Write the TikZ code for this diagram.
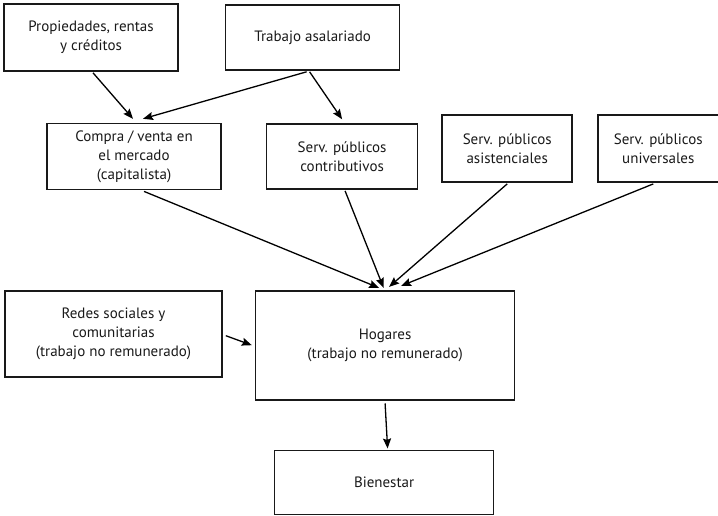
\documentclass[tikz,border=0pt]{standalone}
\usepackage{fontspec}
\setmainfont{PT Sans}
\usetikzlibrary{arrows.meta,positioning}

\begin{document}
\begin{tikzpicture}[x=1pt, y=1pt, >={Stealth[length=10pt,width=8pt,inset=1.5pt]}, line width=1.3pt, font=\fontsize{15}{19}\selectfont]

    \tikzstyle{caja} = [rectangle, draw=black!90, line width=1.6pt, align=center, inner sep=0pt, text=black!90]

    \useasboundingbox (0,0) rectangle (718,-516);

    \node (prop)    [caja, minimum width=174pt, minimum height=67pt] at (91,-37.5)          {Propiedades, rentas\\y créditos};
    \node (trab)    [caja, minimum width=174pt, minimum height=65pt, right=46pt of prop]    {Trabajo asalariado};

    \node (compra)  [caja, minimum width=174pt, minimum height=66pt, below=51pt of prop, xshift=43pt] {Compra / venta en\\el mercado\\(capitalista)};
    \node (contrib) [caja, minimum width=151pt, minimum height=65pt, right=44pt of compra]  {Serv. públicos\\contributivos};
    \node (asist)   [caja, minimum width=130pt, minimum height=67pt, right=23pt of contrib, yshift=8pt] {Serv. públicos\\asistenciales};
    \node (univ)    [caja, minimum width=121pt, minimum height=67pt, right=24pt of asist]   {Serv. públicos\\universales};

    \node (hog)     [caja, minimum width=259pt, minimum height=109pt, below=100pt of contrib, xshift=43pt] {Hogares\\(trabajo no remunerado)};
    \node (redes)   [caja, minimum width=217pt, minimum height=86pt, left=32pt of hog, yshift=11.5pt] {Redes sociales y\\comunitarias\\(trabajo no remunerado)};

    \node (bien)    [caja, minimum width=219pt, minimum height=64pt, below=49pt of hog, xshift=-1pt] {Bienestar};

    \path[->]  ([xshift=2pt,yshift=-1pt]prop.south)     edge  ([xshift=-1pt,yshift=4pt]compra.north);
    \path[->]  ([xshift=-6pt,yshift=-1pt]trab.south)    edge  ([xshift=9pt,yshift=4pt]compra.north);
    \path[->]  ([xshift=-3pt,yshift=-1pt]trab.south)    edge  ([yshift=4pt]contrib.north);

    \path[->]  ([xshift=10pt,yshift=-1pt]compra.south)  edge  ([xshift=-6pt,yshift=2pt]hog.north);
    \path[->]  ([xshift=3pt,yshift=-1pt]contrib.south)  edge  ([xshift=-1.5pt,yshift=2pt]hog.north);
    \path[->]  ([yshift=-1pt]asist.south)               edge  ([xshift=4pt,yshift=3pt]hog.north);
    \path[->]  ([xshift=-5pt,yshift=-1pt]univ.south)    edge  ([xshift=16pt,yshift=4pt]hog.north);

    \path[->]  ([xshift=3pt,yshift=-2pt]redes.east)     edge  ([xshift=-3pt]hog.west);
    \path[->]  ([yshift=-3pt]hog.south)                 edge  ([xshift=3.5pt,yshift=1pt]bien.north);

\end{tikzpicture}
\end{document}
